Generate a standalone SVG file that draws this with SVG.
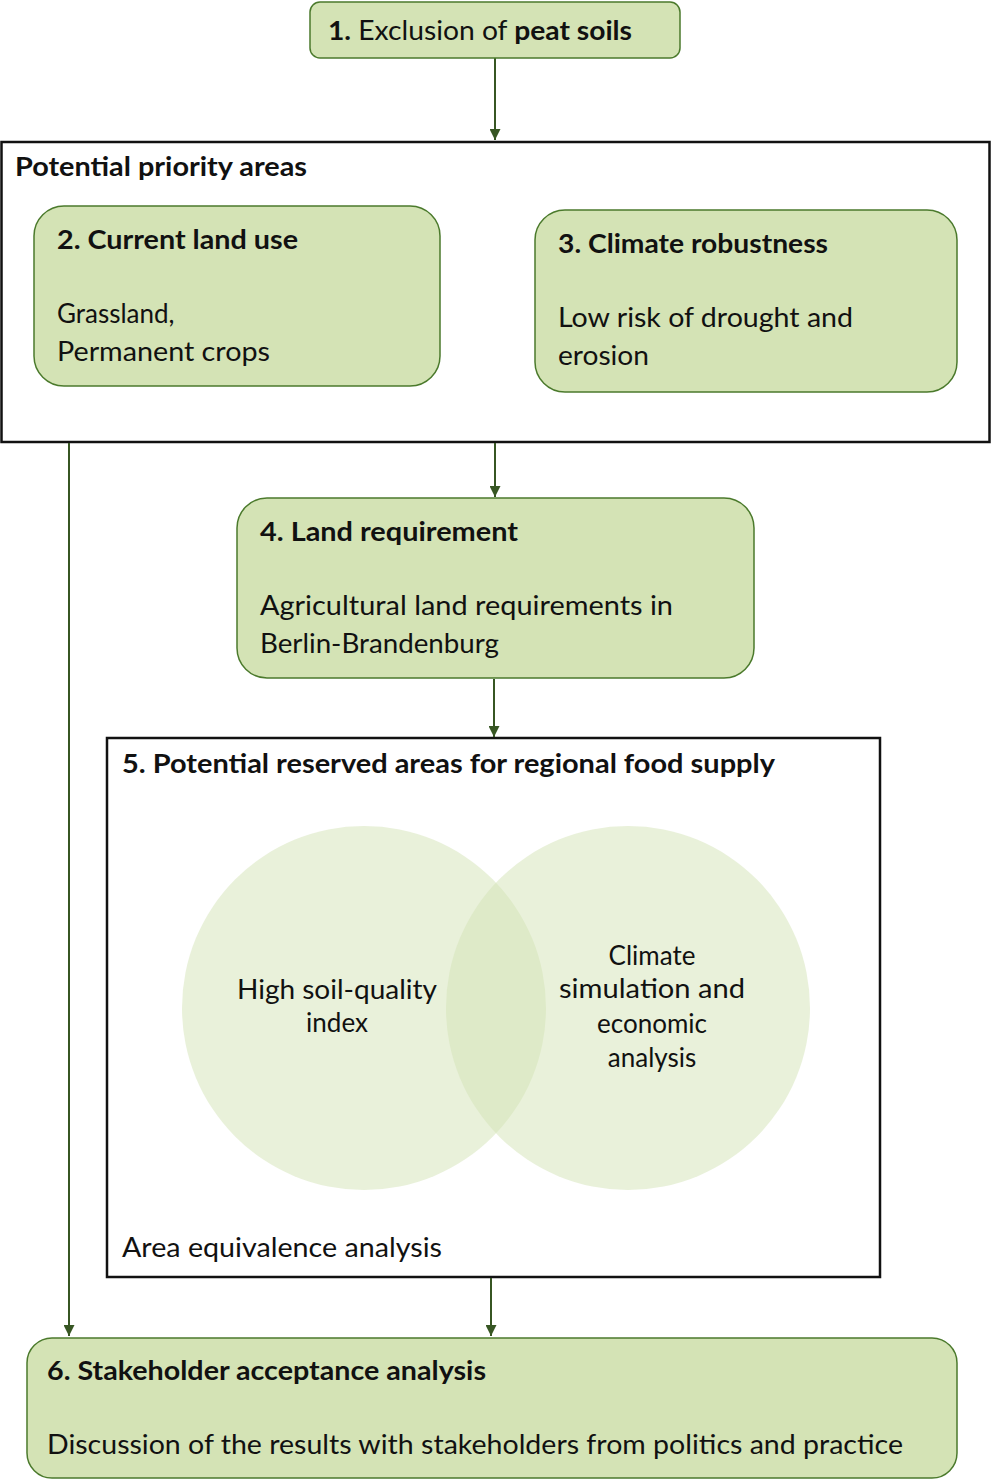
<svg xmlns="http://www.w3.org/2000/svg" width="992" height="1480" viewBox="0 0 992 1480">
<defs>
<style>
.node{fill:#d4e3b5;stroke:#4b7a2c;stroke-width:1.5}
.frame{fill:#fff;stroke:#111;stroke-width:2.5}
.t{font-family:Lato,"Liberation Sans",sans-serif;font-size:26px;fill:#111}
.b{font-weight:bold}
.c{text-anchor:middle}
.conn{stroke:#375623;stroke-width:2;fill:none}
.circ{fill:#d4e3b5;fill-opacity:0.5}
</style>
<marker id="arr" viewBox="0 0 10 10" refX="10" refY="5" markerWidth="5.5" markerHeight="5.5" orient="auto">
<path d="M0,0 L10,5 L0,10 z" fill="#375623"/>
</marker>
</defs>
<rect width="992" height="1480" fill="#fff"/>

<g id="frame-priority">
<rect class="frame" x="1.5" y="142" width="988" height="300"/>
<text class="t b" x="15" y="176" textLength="292" lengthAdjust="spacingAndGlyphs">Potential priority areas</text>
</g>

<g id="frame-reserved">
<rect class="frame" x="107" y="738" width="773" height="539"/>
<text class="t b" x="122" y="773" textLength="653" lengthAdjust="spacingAndGlyphs">5. Potential reserved areas for regional food supply</text>
<text class="t" x="122" y="1257" textLength="320" lengthAdjust="spacingAndGlyphs">Area equivalence analysis</text>
</g>

<g id="connectors">
<line class="conn" x1="495" y1="58" x2="495" y2="140" marker-end="url(#arr)"/>
<line class="conn" x1="495" y1="443" x2="495" y2="497" marker-end="url(#arr)"/>
<line class="conn" x1="494" y1="679" x2="494" y2="737" marker-end="url(#arr)"/>
<line class="conn" x1="69" y1="443" x2="69" y2="1336" marker-end="url(#arr)"/>
<line class="conn" x1="491" y1="1278" x2="491" y2="1336" marker-end="url(#arr)"/>
</g>

<g id="node1">
<rect class="node" x="310" y="2" width="370" height="56" rx="10"/>
<text class="t" x="328" y="40" textLength="304" lengthAdjust="spacingAndGlyphs"><tspan class="b">1.</tspan> Exclusion of <tspan class="b">peat soils</tspan></text>
</g>

<g id="node2">
<rect class="node" x="34" y="206" width="406" height="180" rx="30"/>
<text class="t b" x="57" y="249" textLength="241" lengthAdjust="spacingAndGlyphs">2. Current land use</text>
<text class="t" x="57" y="323">Grassland,</text>
<text class="t" x="57" y="361" textLength="213" lengthAdjust="spacingAndGlyphs">Permanent crops</text>
</g>

<g id="node3">
<rect class="node" x="535" y="210" width="422" height="182" rx="30"/>
<text class="t b" x="558" y="253" textLength="270" lengthAdjust="spacingAndGlyphs">3. Climate robustness</text>
<text class="t" x="558" y="327" textLength="295" lengthAdjust="spacingAndGlyphs">Low risk of drought and</text>
<text class="t" x="558" y="365" textLength="91" lengthAdjust="spacingAndGlyphs">erosion</text>
</g>

<g id="node4">
<rect class="node" x="237" y="498" width="517" height="180" rx="30"/>
<text class="t b" x="260" y="541" textLength="258" lengthAdjust="spacingAndGlyphs">4. Land requirement</text>
<text class="t" x="260" y="615" textLength="413" lengthAdjust="spacingAndGlyphs">Agricultural land requirements in</text>
<text class="t" x="260" y="653" textLength="239" lengthAdjust="spacingAndGlyphs">Berlin-Brandenburg</text>
</g>

<g id="venn">
<circle class="circ" cx="364" cy="1008" r="182"/>
<circle class="circ" cx="628" cy="1008" r="182"/>
<text class="t c" x="337" y="999" textLength="200" lengthAdjust="spacingAndGlyphs">High soil-quality</text>
<text class="t c" x="337" y="1032">index</text>
<text class="t c" x="652" y="965">Climate</text>
<text class="t c" x="652" y="998" textLength="186" lengthAdjust="spacingAndGlyphs">simulation and</text>
<text class="t c" x="652" y="1033">economic</text>
<text class="t c" x="652" y="1067">analysis</text>
</g>

<g id="node6">
<rect class="node" x="27" y="1338" width="930" height="140" rx="25"/>
<text class="t b" x="47" y="1380" textLength="439" lengthAdjust="spacingAndGlyphs">6. Stakeholder acceptance analysis</text>
<text class="t" x="47" y="1454" textLength="856" lengthAdjust="spacingAndGlyphs">Discussion of the results with stakeholders from politics and practice</text>
</g>
</svg>
